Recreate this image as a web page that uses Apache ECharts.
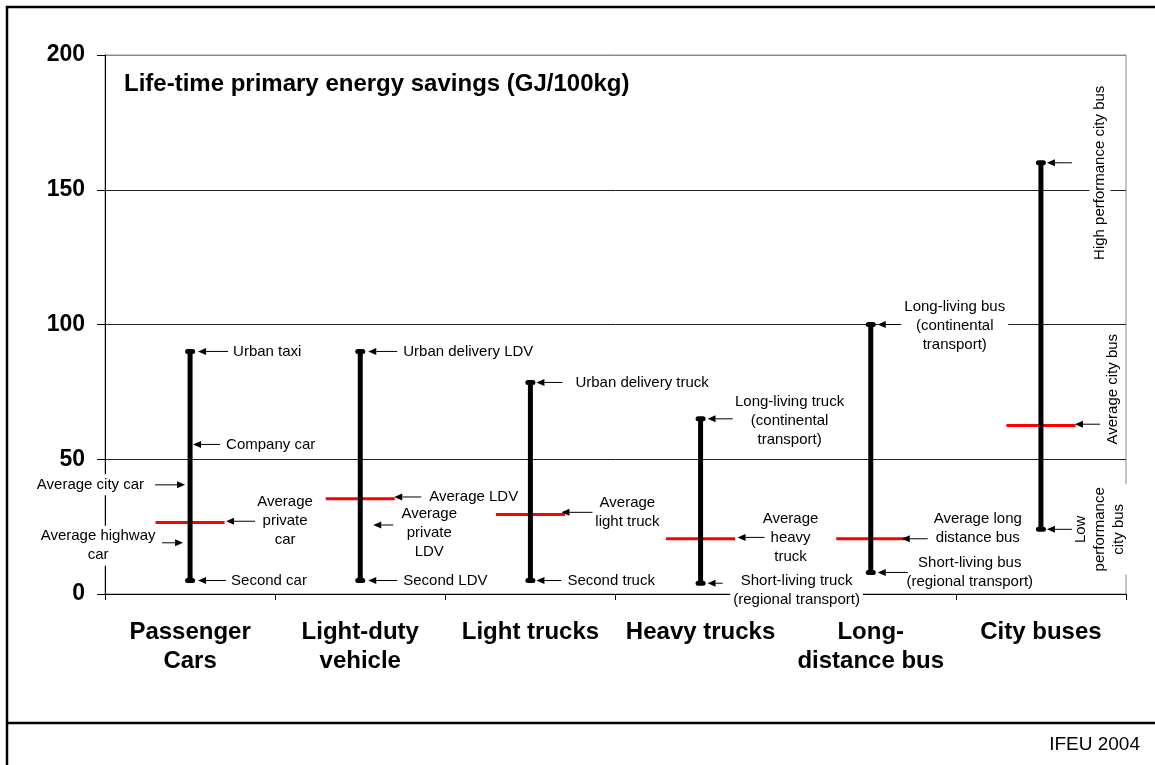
<!DOCTYPE html>
<html>
<head>
<meta charset="utf-8">
<script src="https://cdn.jsdelivr.net/npm/echarts@6/dist/echarts.min.js"></script>
<style>
html, body { margin: 0; padding: 0; background: #fff; }
#chart { width: 1155px; height: 765px; }
</style>
</head>
<body>
<div id="chart"></div>
<script>
const FONT = '"Liberation Sans", Arial, sans-serif';

const categories = ['Passenger\nCars', 'Light-duty\nvehicle', 'Light trucks', 'Heavy trucks', 'Long-\ndistance bus', 'City buses'];
const lowValues = [5, 5, 5, 4, 8, 24];
const highValues = [90, 90, 78.5, 65, 100, 160];
const averageValues = [26.5, 35.3, 29.5, 20.5, 20.5, 62.5];

// notes: text, category index, value the arrow points at
const noteTexts = [
    'Urban taxi', 'Company car', 'Average\nprivate\ncar', 'Second car', 'Average city car', 'Average highway\ncar',
    'Urban delivery LDV', 'Average LDV', 'Average\nprivate\nLDV', 'Second LDV',
    'Urban delivery truck', 'Average\nlight truck', 'Second truck',
    'Long-living truck\n(continental\ntransport)', 'Average\nheavy\ntruck', 'Short-living truck\n(regional transport)',
    'Long-living bus\n(continental\ntransport)', 'Average long\ndistance bus', 'Short-living bus\n(regional transport)',
    'High performance city bus', 'Average city bus', 'Low\nperformance\ncity bus'
];
const noteCategory = [0, 0, 0, 0, 0, 0, 1, 1, 1, 1, 2, 2, 2, 3, 3, 3, 4, 4, 4, 5, 5, 5];
const noteValues = [90, 55.5, 27, 5, 40.5, 19, 90, 36, 25.6, 5, 78.5, 30.3, 5, 65, 21, 4, 100, 20.5, 8, 160, 63, 24];

// where each note sits relative to its point (px): arrow tip/tail x, text offset
const noteLayout = [
    { tip: 8, tail: 38, tx: 40, align: 'left' },
    { tip: 3, tail: 30, tx: 33, align: 'left' },
    { tip: 36, tail: 65, tx: 95 },
    { tip: 8, tail: 36, tx: 38, align: 'left' },
    { tip: -5, tail: -35, tx: -43, align: 'right' },
    { tip: -7, tail: -28, tx: -92, ty: 3 },
    { tip: 8, tail: 37, tx: 40, align: 'left' },
    { tip: 34, tail: 61, tx: 66, align: 'left' },
    { tip: 13, tail: 33, tx: 69, ty: 8 },
    { tip: 8, tail: 37, tx: 40, align: 'left' },
    { tip: 6, tail: 32, tx: 42, align: 'left' },
    { tip: 31, tail: 62, tx: 97 },
    { tip: 6, tail: 31, tx: 34, align: 'left' },
    { tip: 7, tail: 32, tx: 89, ty: 2 },
    { tip: 37, tail: 64, tx: 90 },
    { tip: 7, tail: 22, tx: 96, ty: 7 },
    { tip: 7, tail: 28, tx: 84, ty: 1 },
    { tip: 31, tail: 57, tx: 107, ty: -10 },
    { tip: 7, tail: 37, tx: 99 },
    { tip: 6, tail: 31, tx: 59, ty: 10, rot: true },
    { tip: 34, tail: 59, tx: 72, ty: -35, rot: true },
    { tip: 6, tail: 31, tx: 59, rot: true }
];

const rangeData = categories.map((c, i) => [i, lowValues[i], highValues[i], averageValues[i]]);
const noteData = noteTexts.map((t, i) => [noteCategory[i], noteValues[i], i]);

function renderRange(params, api) {
    const cat = api.value(0);
    const bottom = api.coord([cat, api.value(1)]);
    const top = api.coord([cat, api.value(2)]);
    const avg = api.coord([cat, api.value(3)]);
    const half = api.size([1, 0])[0] * 0.203;
    return {
        type: 'group',
        children: [
            { type: 'line', shape: { x1: avg[0] - half, y1: avg[1], x2: avg[0] + half, y2: avg[1] },
              style: { stroke: '#ff0000', lineWidth: 3 } },
            { type: 'line', shape: { x1: top[0], y1: top[1], x2: bottom[0], y2: bottom[1] },
              style: { stroke: '#000', lineWidth: 5 } },
            { type: 'rect', shape: { x: top[0] - 5, y: top[1] - 2.5, width: 10, height: 5, r: 2.5 }, style: { fill: '#000' } },
            { type: 'rect', shape: { x: bottom[0] - 5, y: bottom[1] - 2.5, width: 10, height: 5, r: 2.5 }, style: { fill: '#000' } }
        ]
    };
}

function renderNote(params, api) {
    const p = api.coord([api.value(0), api.value(1)]);
    const lay = noteLayout[params.dataIndex];
    const y = p[1];
    const tipX = p[0] + lay.tip;
    const tailX = p[0] + lay.tail;
    const dir = tailX > tipX ? 1 : -1;
    const head = 8;
    return {
        type: 'group',
        children: [
            {
                type: 'text',
                x: p[0] + lay.tx,
                y: y + (lay.ty || 0),
                rotation: lay.rot ? Math.PI / 2 : 0,
                style: {
                    text: noteTexts[api.value(2)],
                    fill: '#000',
                    fontSize: 15,
                    fontFamily: FONT,
                    align: lay.align || 'center',
                    verticalAlign: 'middle',
                    lineHeight: 19,
                    backgroundColor: '#fff',
                    padding: [1, 3]
                }
            },
            { type: 'line', shape: { x1: tailX, y1: y, x2: tipX + dir * head, y2: y },
              style: { stroke: '#000', lineWidth: 1 } },
            { type: 'polygon', shape: { points: [[tipX, y], [tipX + dir * head, y - 3.5], [tipX + dir * head, y + 3.5]] },
              style: { fill: '#000' } }
        ]
    };
}

const chart = echarts.init(document.getElementById('chart'));
chart.setOption({
    animation: false,
    backgroundColor: '#fff',
    grid: {
        left: 105, right: 29, top: 55, bottom: 171,
        show: true, borderColor: '#888', borderWidth: 1
    },
    xAxis: {
        type: 'category',
        data: categories,
        boundaryGap: true,
        axisLine: { lineStyle: { color: '#000', width: 1 } },
        axisTick: { show: true, length: 6, lineStyle: { color: '#000' } },
        axisLabel: {
            color: '#000', fontSize: 24, fontWeight: 'bold', fontFamily: FONT,
            lineHeight: 29, margin: 24, interval: 0
        },
        splitLine: { show: false }
    },
    yAxis: {
        type: 'value',
        min: 0, max: 200, interval: 50,
        axisLine: { show: true, lineStyle: { color: '#000', width: 1 } },
        axisTick: { show: true, length: 8, lineStyle: { color: '#000' } },
        axisLabel: { color: '#000', fontSize: 23, fontWeight: 'bold', fontFamily: FONT, margin: 20, padding: [4, 0, 0, 0] },
        splitLine: { show: true, lineStyle: { color: ['#000', '#222', '#222', '#222', '#888'], width: 1 } }
    },
    series: [
        { type: 'custom', renderItem: renderRange, data: rangeData, z: 3 },
        { type: 'custom', renderItem: renderNote, data: noteData, z: 4 }
    ],
    graphic: [
        { type: 'rect', shape: { x: 7, y: 7, width: 1170, height: 780 }, style: { fill: null, stroke: '#000', lineWidth: 2.5 } },
        { type: 'line', shape: { x1: 7, y1: 723, x2: 1155, y2: 723 }, style: { stroke: '#000', lineWidth: 2.5 } },
        { type: 'text', left: 124, top: 72, style: { text: 'Life-time primary energy savings (GJ/100kg)', fill: '#000', fontSize: 24, fontWeight: 'bold', fontFamily: FONT } },
        { type: 'text', right: 15, top: 735, style: { text: 'IFEU 2004', fill: '#000', fontSize: 19, fontFamily: FONT } }
    ]
});
</script>
</body>
</html>
